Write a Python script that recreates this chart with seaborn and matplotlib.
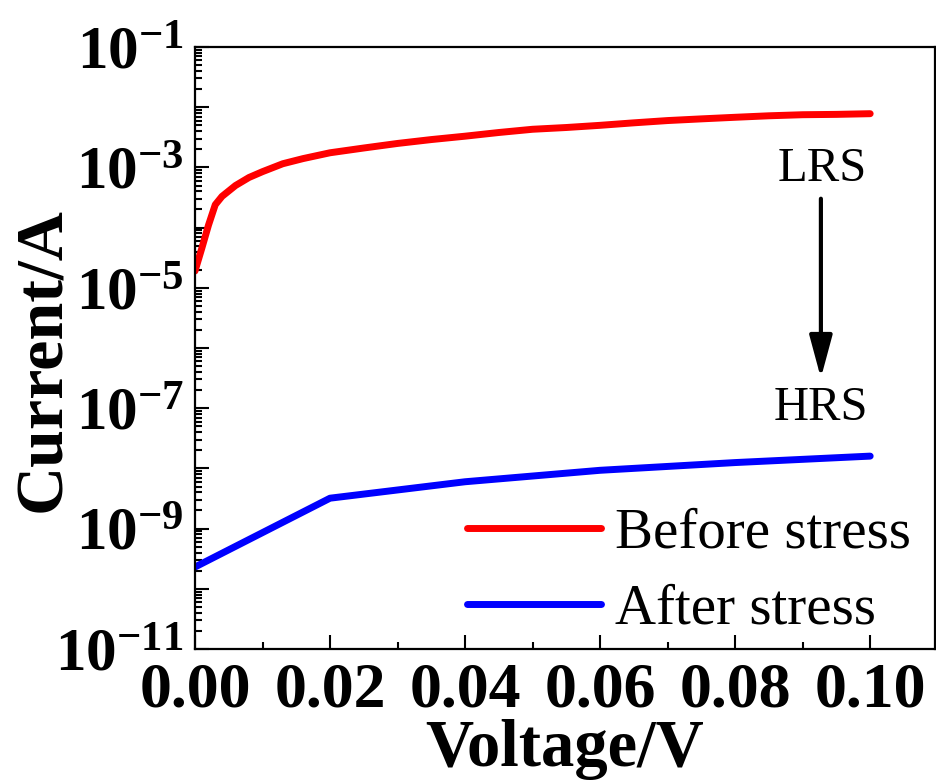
import numpy as np
import pandas as pd
import matplotlib
matplotlib.use("Agg")
import matplotlib.pyplot as plt
import seaborn as sns

# ---------data-----------------------------------------------------------------
v_before = [0.0, 0.001, 0.002, 0.003, 0.004, 0.006, 0.008, 0.010, 0.013, 0.016,
            0.020, 0.025, 0.030, 0.035, 0.040, 0.045, 0.050, 0.055, 0.060,
            0.065, 0.070, 0.075, 0.080, 0.085, 0.090, 0.095, 0.100]
i_before = [1.9e-5, 4.5e-5, 1.1e-4, 2.4e-4, 3.3e-4, 5.0e-4, 6.8e-4, 8.5e-4,
            1.15e-3, 1.4e-3, 1.75e-3, 2.1e-3, 2.5e-3, 2.9e-3, 3.3e-3, 3.8e-3,
            4.3e-3, 4.6e-3, 5.0e-3, 5.5e-3, 6.0e-3, 6.4e-3, 6.8e-3, 7.2e-3,
            7.5e-3, 7.6e-3, 7.8e-3]

v_after = [0.0, 0.02, 0.04, 0.06, 0.08, 0.10]
i_after = [2.3e-10, 3.2e-9, 6.0e-9, 9.3e-9, 1.25e-8, 1.6e-8]

x_ticks = [0.00, 0.02, 0.04, 0.06, 0.08, 0.10]
x_ticklabels = ['0.00', '0.02', '0.04', '0.06', '0.08', '0.10']
y_exps = [-11, -10, -9, -8, -7, -6, -5, -4, -3, -2, -1]
y_ticklabels = [r'$10^{%d}$' % e if e % 2 else '' for e in y_exps]

df = pd.concat([
    pd.DataFrame({'V': v_before, 'I': i_before, 'state': 'Before stress'}),
    pd.DataFrame({'V': v_after, 'I': i_after, 'state': 'After stress'}),
])

# ---------style----------------------------------------------------------------
sns.set_style('ticks')
plt.rcParams['font.family'] = ['Liberation Serif', 'DejaVu Serif']
plt.rcParams['mathtext.fontset'] = 'custom'
plt.rcParams['mathtext.rm'] = 'Liberation Serif:bold'
plt.rcParams['mathtext.default'] = 'rm'
for k in ['text.color', 'axes.labelcolor', 'xtick.color', 'ytick.color', 'axes.edgecolor']:
    plt.rcParams[k] = 'black'

fig = plt.figure(figsize=(9.36, 7.83), dpi=100)
ax = fig.add_axes([195/936, 134/783, 740/936, 602/783])

sns.lineplot(data=df, x='V', y='I', hue='state',
             palette={'Before stress': '#FF0000', 'After stress': '#0000FF'},
             linewidth=5, sort=True, ax=ax, solid_capstyle='round')

ax.set_yscale('log')
ax.set_xlim(0, 0.1096)
ax.set_ylim(1e-11, 1e-1)

ax.set_xticks(x_ticks)
ax.set_xticklabels(x_ticklabels, fontsize=46, fontweight='bold')
ax.set_xticks(np.arange(0.01, 0.11, 0.02), minor=True)
ax.set_yticks([10.0**e for e in y_exps])
ax.set_yticklabels(y_ticklabels, fontsize=44)
ax.yaxis.set_minor_locator(matplotlib.ticker.LogLocator(base=10, subs=np.arange(2, 10), numticks=30))
ax.yaxis.set_minor_formatter(matplotlib.ticker.NullFormatter())

ax.tick_params(which='major', direction='in', length=10, width=1.5, pad=10)
ax.tick_params(which='minor', direction='in', length=5, width=1.5)
ax.tick_params(axis='y', which='major', pad=8)
for s in ax.spines.values():
    s.set_linewidth(1.6)

ax.set_xlabel('Voltage/V', fontsize=48, fontweight='bold', labelpad=-1)
ax.set_ylabel('Current/A', fontsize=49, fontweight='bold')
ax.yaxis.set_label_coords(-0.163, 0.48)

# annotation
ax.text(0.0929, 10**-3.02, 'LRS', fontsize=35, ha='center', va='center')
ax.text(0.0927, 1e-7, 'HRS', fontsize=35, ha='center', va='center')
ax.annotate('', xy=(0.0927, 10**-6.5), xytext=(0.0927, 10**-3.52),
            arrowprops=dict(arrowstyle='-|>,head_length=1.3,head_width=0.35',
                            mutation_scale=20, color='black', lw=3,
                            shrinkA=0, shrinkB=0))

ax.legend(loc='lower right', bbox_to_anchor=(1.0135, -0.035), frameon=False,
          fontsize=41, handlelength=2.35, handletextpad=0.25, labelspacing=0.42,
          borderaxespad=0.2)

plt.savefig('out.png', dpi=100)
